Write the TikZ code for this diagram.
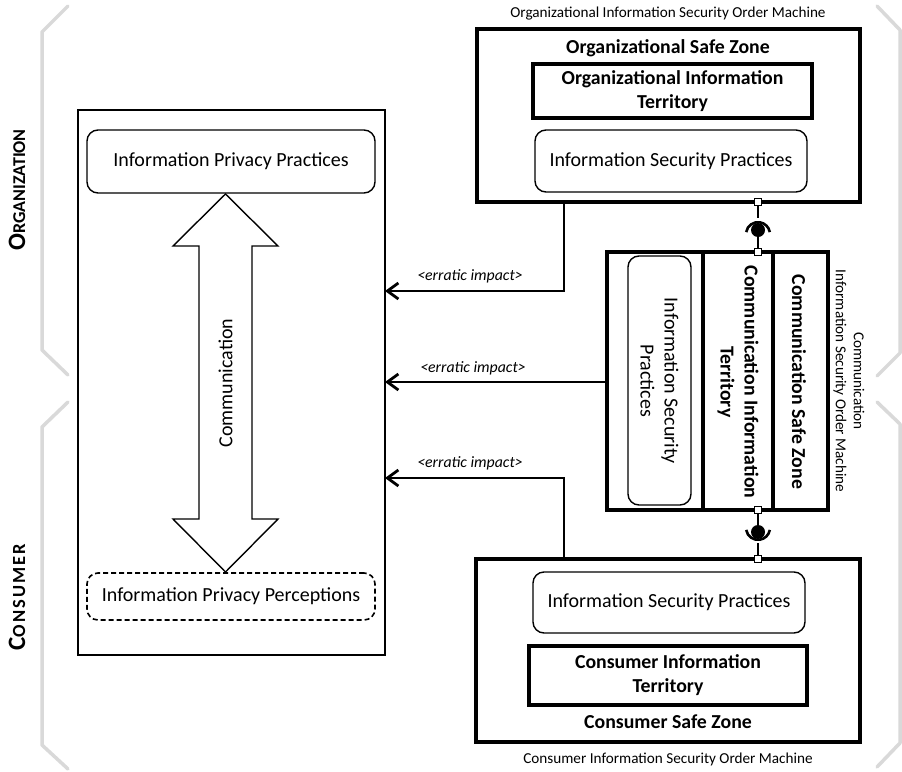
\documentclass[tikz,border=0pt]{standalone}
\usepackage{fontspec}
\setmainfont{Carlito}
\usetikzlibrary{arrows.meta}

\tikzset{
  every node/.style={inner sep=0pt, outer sep=0pt},
  thinbox/.style={draw, line width=1.6pt},
  thickbox/.style={draw, line width=3.6pt},
  softbox/.style={draw, line width=1.4pt, rounded corners=11pt},
  dashbox/.style={draw, line width=1.6pt, rounded corners=11pt, dash pattern=on 5pt off 3pt},
  txt/.style={font=\fontsize{20}{24}\selectfont, align=center},
  btxt/.style={font=\fontsize{19.8}{24}\selectfont\bfseries, align=center},
  caption/.style={font=\fontsize{15.2}{18}\selectfont, align=center},
  impact/.style={font=\fontsize{15.8}{18}\selectfont\itshape},
  impactarrow/.style={line width=2.8pt, -{Straight Barb[length=11pt,width=16pt,line width=2.8pt]}},
  bracket/.style={draw=gray!30, line width=3.5pt, line cap=round, line join=round},
  wire/.style={line width=1.6pt},
  port/.style={draw, fill=white, line width=1.2pt, minimum size=7pt},
  grouplabel/.style={rotate=90, font=\bfseries}
}

\begin{document}
\begin{tikzpicture}[x=1pt, y=-1pt]
\useasboundingbox (0,0) rectangle (902,771);

% grey group brackets
\draw[bracket] (68,6) -- (42,32) -- (42,350) -- (68,375);
\draw[bracket] (68,402) -- (42,427) -- (42,745) -- (68,769);
\draw[bracket] (877,6) -- (900,30) -- (900,353) -- (877,376);
\draw[bracket] (877,402) -- (900,424) -- (900,743) -- (877,767);

% group names
\node[grouplabel] (org) at (17,190)
  {{\fontsize{25}{25}\selectfont O}{\fontsize{18}{18}\selectfont RGANIZATION}};
\node[grouplabel] (cons) at (17,597)
  {\addfontfeature{LetterSpace=11}{\fontsize{25}{25}\selectfont C}{\fontsize{18.5}{18.5}\selectfont ONSUMER}};

% privacy side
\node[thinbox, minimum width=307pt, minimum height=545pt] (L) at (231.5,382.5) {};
\node[softbox, txt, minimum width=288pt, minimum height=63pt] (PP) at (231,161.5)
  {Information Privacy Practices};
\node[dashbox, txt, minimum width=288pt, minimum height=47pt] (PPer) at (231,596.5)
  {Information Privacy Perceptions};

% communication double arrow
\draw[line width=1.4pt, line join=miter]
  (225.5,194) -- (278,246) -- (252,246) -- (252,519) -- (278,519) -- (225.5,572)
  -- (173,519) -- (199,519) -- (199,246) -- (173,246) -- cycle;
\node[txt, rotate=90] (comm) at (225.5,383) {Communication};

% organizational machine
\node[caption] (Ocap) at (668,14) {Organizational Information Security Order Machine};
\node[thickbox, minimum width=383pt, minimum height=173pt] (O) at (668.5,115.5) {};
\node[btxt] (Oname) at (668,48) {Organizational Safe Zone};
\node[thickbox, btxt, minimum width=279pt, minimum height=54pt] (OT) at (672.5,91)
  {Organizational Information\\Territory};
\node[softbox, txt, minimum width=272pt, minimum height=62pt] (OSP) at (671,161)
  {Information Security Practices};

% consumer machine
\node[thickbox, minimum width=384pt, minimum height=183pt] (C) at (668,650.5) {};
\node[softbox, txt, minimum width=272pt, minimum height=61pt] (CSP) at (669,602.5)
  {Information Security Practices};
\node[thickbox, btxt, minimum width=278pt, minimum height=59pt] (CT) at (668,675.5)
  {Consumer Information\\Territory};
\node[btxt] (Cname) at (668,722) {Consumer Safe Zone};
\node[caption] (Ccap) at (668,759) {Consumer Information Security Order Machine};

% communication machine
\node[thickbox, minimum width=221pt, minimum height=258pt] (M) at (717.5,381) {};
\node[thickbox, minimum width=70pt, minimum height=258pt] (MT) at (738,381) {};
\node[btxt, rotate=-90] (MTname) at (738,382) {Communication Information\\Territory};
\node[btxt, rotate=-90] (Mname) at (799,382) {Communication Safe Zone};
\node[softbox, minimum width=63pt, minimum height=249pt] (MSP) at (659.5,380.5) {};
\node[txt, rotate=-90] (MSPtext) at (659.5,381) {Information Security\\Practices};
\node[caption, rotate=-90] (Mcap) at (849,381)
  {Communication\\Information Security Order Machine};

% interface between organizational and communication machines
\coordinate (ballA) at (758,230);
\draw[wire] (ballA |- O.south) -- ++(0,16);
\draw[wire] (ballA) -- (ballA |- M.north);
\draw[line width=2.6pt] ([shift={(170:12)}]ballA) arc[start angle=170, end angle=10, radius=12pt];
\fill (ballA) circle[radius=7pt];
\node[port] (pA1) at (ballA |- O.south) {};
\node[port] (pA2) at (ballA |- M.north) {};

% interface between communication and consumer machines
\coordinate (ballB) at (758,532);
\draw[wire] (ballB |- M.south) -- (ballB);
\draw[wire] (ballB |- C.north) -- ++(0,-16);
\draw[line width=2.6pt] ([shift={(-170:12)}]ballB) arc[start angle=-170, end angle=-10, radius=12pt];
\fill (ballB) circle[radius=7pt];
\node[port] (pB1) at (ballB |- M.south) {};
\node[port] (pB2) at (ballB |- C.north) {};

% erratic impacts on the privacy side
\coordinate (e1) at (564,291);
\coordinate (e2) at (607,382);
\coordinate (e3) at (564,478);
\draw[impactarrow] (e1 |- O.south) -- (e1) -- (e1 -| L.east);
\draw[impactarrow] (e2 -| M.west) -- (e2 -| L.east);
\draw[impactarrow] (e3 |- C.north) -- (e3) -- (e3 -| L.east);
\node[impact] (i1) at (470,276) {<erratic impact>};
\node[impact] (i2) at (473,368) {<erratic impact>};
\node[impact] (i3) at (470,463) {<erratic impact>};

\end{tikzpicture}
\end{document}
